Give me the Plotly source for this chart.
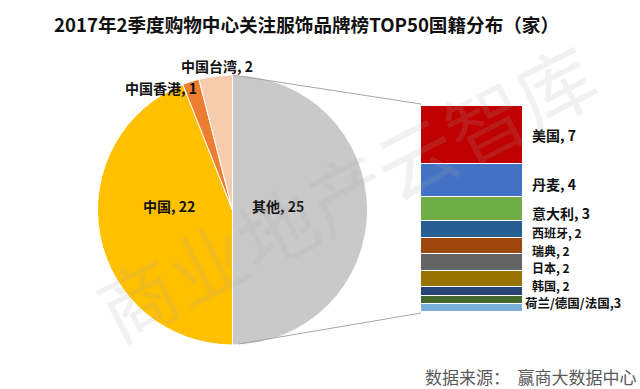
import plotly.graph_objects as go

W, H = 640, 389

# ---- data ----
pie_labels = ["其他", "中国", "中国香港", "中国台湾"]
pie_values = [25, 22, 1, 2]
pie_colors = ["#C9C9C9", "#FFC000", "#ED7D31", "#F8CBAD"]

bar_labels = ["美国", "丹麦", "意大利", "西班牙", "瑞典", "日本", "韩国", "荷兰", "德国", "法国"]
bar_values = [7, 4, 3, 2, 2, 2, 2, 1, 1, 1]
bar_colors = ["#C00000", "#4472C4", "#70AD47", "#255E91", "#9E480E",
              "#636363", "#997300", "#264478", "#43682B", "#7CAFDD"]
group_label = "荷兰/德国/法国"

title = "2017年2季度购物中心关注服饰品牌榜TOP50国籍分布（家）"
source = "数据来源：  赢商大数据中心"
watermark = "商业地产云智库"

FONT = "Noto Sans CJK SC"

# ---- layout geometry (pixels) ----
pie_x0, pie_x1, pie_y0, pie_y1 = 97, 368, 75, 345
bar_x0, bar_x1, bar_y0, bar_y1 = 421, 523, 106, 312


def px(x):
    return x / W


def py(y):
    return 1 - y / H


fig = go.Figure()

fig.add_trace(go.Pie(
    labels=pie_labels, values=pie_values, sort=False, direction="clockwise",
    rotation=0, marker=dict(colors=pie_colors, line=dict(color="white", width=1)),
    textinfo="none", hoverinfo="label+value", showlegend=False,
    domain=dict(x=[px(pie_x0), px(pie_x1)], y=[py(pie_y1), py(pie_y0)]),
))

# stacked bar: bottom first
for lab, val, col in reversed(list(zip(bar_labels, bar_values, bar_colors))):
    fig.add_trace(go.Bar(
        x=[0], y=[val], name=lab, width=1,
        marker=dict(color=col, line=dict(color="white", width=1.5)),
        xaxis="x", yaxis="y", showlegend=False,
    ))

total = sum(bar_values)
LBL = dict(color="#111111", family=FONT)

annotations = []
# pie labels
pie_label_pos = {
    "其他": (278, 206),
    "中国": (169, 206),
    "中国香港": (161, 88),
    "中国台湾": (217, 66),
}
for lab, val in zip(pie_labels, pie_values):
    x, y = pie_label_pos[lab]
    annotations.append(dict(text=f"<b>{lab}, {val}</b>", x=px(x), y=py(y), xref="paper", yref="paper",
                            xanchor="center", yanchor="middle",
                            showarrow=False, font=dict(size=14, **LBL)))

# bar labels, at segment midpoints (slightly spread so they do not collide)
cum = total
mids = []
for lab, val in zip(bar_labels, bar_values):
    mids.append(cum - val / 2)
    cum -= val
shifts = [0, -4, -4, -3.0, -4.0, -5.0, -6.0]
sizes = [14, 14, 14, 12, 12, 12, 12]
for i in range(7):
    annotations.append(dict(text=f"<b>{bar_labels[i]}, {bar_values[i]}</b>", x=0.5, y=mids[i],
                            xref="x", yref="y", xanchor="left", yanchor="middle",
                            xshift=7, yshift=shifts[i], showarrow=False,
                            font=dict(size=sizes[i], **LBL)))
grp_total = sum(bar_values[7:])
annotations.append(dict(text=f"<b>{group_label},{grp_total}</b>", x=0.5, y=grp_total / 2,
                        xref="x", yref="y", xanchor="left", yanchor="middle", xshift=0, yshift=-2.5,
                        showarrow=False, font=dict(size=12.5, **LBL)))

# title
annotations.append(dict(text=f"<b>{title}</b>", x=px(306), y=py(23), xref="paper", yref="paper",
                        xanchor="center", yanchor="middle",
                        showarrow=False, font=dict(size=18.6, color="#111111", family=FONT)))
# source
annotations.append(dict(text=source, x=px(639), y=py(376), xref="paper", yref="paper",
                        xanchor="right", yanchor="middle", showarrow=False,
                        font=dict(size=17, color="#595959", family=FONT)))
# watermark
annotations.append(dict(text=watermark, x=px(345), y=py(190), xref="paper", yref="paper",
                        xanchor="center", yanchor="middle",
                        showarrow=False, textangle=-27,
                        font=dict(size=78, color="rgba(170,170,170,0.16)", family=FONT)))

cx = (pie_x0 + pie_x1) / 2
shapes = [
    dict(type="line", xref="paper", yref="paper", x0=px(cx), y0=py(pie_y0), x1=px(bar_x0), y1=py(bar_y0 - 2),
         line=dict(color="#A6A6A6", width=1)),
    dict(type="line", xref="paper", yref="paper", x0=px(cx + 6), y0=py(pie_y1 - 1), x1=px(bar_x0), y1=py(bar_y1 + 1),
         line=dict(color="#A6A6A6", width=1)),
]

fig.update_layout(
    width=W, height=H, margin=dict(l=0, r=0, t=0, b=0),
    paper_bgcolor="white", plot_bgcolor="rgba(0,0,0,0)",
    barmode="stack", bargap=0,
    xaxis=dict(domain=[px(bar_x0), px(bar_x1)], range=[-0.5, 0.5], visible=False, fixedrange=True),
    yaxis=dict(domain=[py(bar_y1), py(bar_y0)], range=[0, total], visible=False, fixedrange=True),
    annotations=annotations, shapes=shapes,
    font=dict(family=FONT),
)

fig.write_html("out.html", config={"displayModeBar": False},
               post_script="document.body.style.margin='0px';")
